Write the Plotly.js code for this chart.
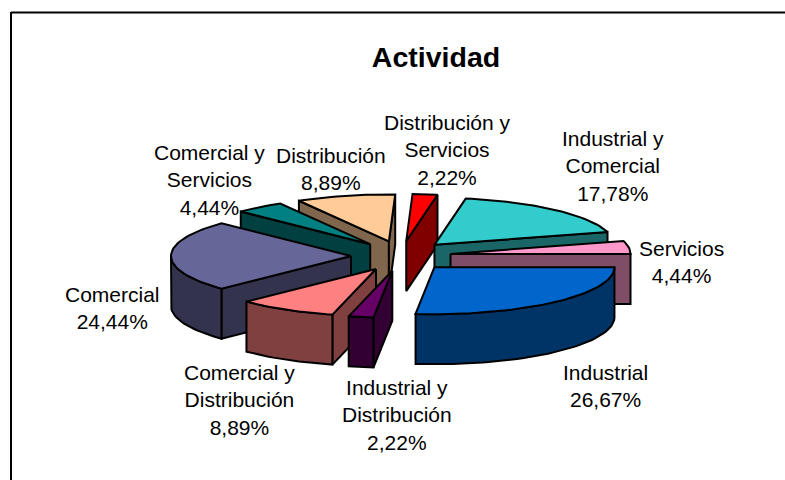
<!DOCTYPE html>
<html><head><meta charset="utf-8">
<script src="https://cdn.plot.ly/plotly-3.0.1.min.js"></script>
<style>html,body{margin:0;padding:0;background:#fff}#c{width:785px;height:480px}</style></head>
<body><div id="c"></div>
<script>
// Data, clockwise from the first slice after "Servicios"
const categories = ["Industrial","Industrial y Distribución","Comercial y Distribución","Comercial","Comercial y Servicios","Distribución","Distribución y Servicios","Industrial y Comercial","Servicios"];
const tickLabels = ["Industrial<br>26,67%","Industrial y<br>Distribución<br>2,22%","Comercial y<br>Distribución<br>8,89%","Comercial<br>24,44%","Comercial y<br>Servicios<br>4,44%","Distribución<br>8,89%","Distribución y<br>Servicios<br>2,22%","Industrial y<br>Comercial<br>17,78%","Servicios<br>4,44%"];
const values = [26.67,2.22,8.89,24.44,4.44,8.89,2.22,17.78,4.44];
const topColors = ["#0066CC","#660066","#FF8080","#666699","#008080","#FFCC99","#FF0000","#33CCCC","#FF99CC"];
const sideColors = ["#003366","#330033","#804040","#33334D","#004040","#80664D","#800000","#1A6666","#804D66"];
const labelX = [605,397,239,112,209,331,447,613,681];
const labelY = [386,415,400,308,180,169,150,166,262];

// Projection of the tilted pie onto the page
const CX=401, CY=256, RX=180, RY=47, EX=50, EY=15, DEPTH=50, START=90;
const rad=d=>d*Math.PI/180;
const total=values.reduce((a,b)=>a+b,0);
let acc=START;
const slices=values.map((v,i)=>{const a0=acc,a1=acc+v/total*360;acc=a1;const m=(a0+a1)/2;
  return {i,a0,a1,ax:CX+EX*Math.sin(rad(m)),ay:CY-EY*Math.cos(rad(m))};});
const rim=(s,a)=>[s.ax+RX*Math.sin(rad(a)),s.ay-RY*Math.cos(rad(a))];
const arc=(s,a,b)=>{const p=[],n=Math.max(2,Math.ceil(Math.abs(b-a)/2));for(let k=0;k<=n;k++)p.push(rim(s,a+(b-a)*k/n));return p;};
const poly=(pts,fill)=>({type:"scatter",mode:"lines",x:[...pts.map(p=>p[0]),pts[0][0]],y:[...pts.map(p=>p[1]),pts[0][1]],
  fill:"toself",fillcolor:fill,line:{color:"#000",width:2},hoverinfo:"skip",showlegend:false});
const traces=[];
[...slices].sort((a,b)=>a.ay-b.ay).forEach(s=>{
  const side=sideColors[s.i], apex=[s.ax,s.ay];
  // only the cut faces turned towards the viewer are drawn
  const faces=[];
  if(Math.sin(rad(s.a0))<-1e-6) faces.push(s.a0);
  if(Math.sin(rad(s.a1))>-1e-6) faces.push(s.a1);
  faces.forEach(a=>{const r=rim(s,a);
    traces.push(poly([apex,r,[r[0],r[1]+DEPTH],[apex[0],apex[1]+DEPTH]],side));});
  for(const [lo,hi] of [[90,270],[450,630]]){
    const b0=Math.max(s.a0,lo),b1=Math.min(s.a1,hi);
    if(b1>b0+1e-6){const t=arc(s,b0,b1);
      traces.push(poly([...t,...t.slice().reverse().map(p=>[p[0],p[1]+DEPTH])],side));}
  }
  traces.push(poly([apex,...arc(s,s.a0,s.a1)],topColors[s.i]));
});
const annotations=tickLabels.map((t,i)=>({x:labelX[i],y:labelY[i],text:t,showarrow:false,xanchor:"center",yanchor:"middle",align:"center",
  font:{family:"Liberation Sans, Arial, sans-serif",size:21,color:"#000"}}));
Plotly.newPlot("c",traces,{
  width:785,height:480,margin:{l:0,r:0,t:0,b:0},paper_bgcolor:"#fff",plot_bgcolor:"#fff",showlegend:false,
  title:{text:"<b>Actividad</b>",x:436/785,xanchor:"center",y:1-57/480,yanchor:"middle",font:{family:"Liberation Sans, Arial, sans-serif",size:28.5,color:"#000"}},
  xaxis:{range:[0,785],visible:false,fixedrange:true},
  yaxis:{range:[480,0],visible:false,fixedrange:true},
  annotations,
  shapes:[
    {type:"line",x0:11,x1:785,y0:12.5,y1:12.5,line:{color:"#000",width:2}},
    {type:"line",x0:11,x1:11,y0:12,y1:480,line:{color:"#000",width:2}}
  ]
},{staticPlot:true,displayModeBar:false});
</script></body></html>
